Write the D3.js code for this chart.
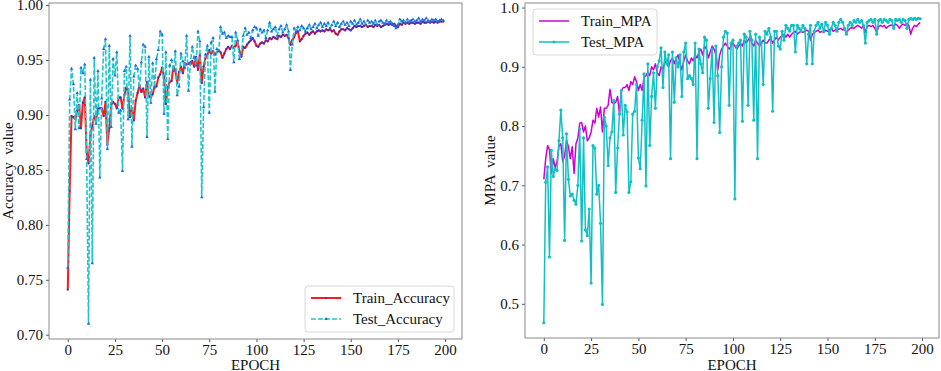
<!DOCTYPE html>
<html>
<head>
<meta charset="utf-8">
<script src="https://cdn.jsdelivr.net/npm/d3@7"></script>
<style>
  body { margin: 0; background: #fff; }
  svg { display: block; font-family: "Liberation Serif", "Times New Roman", serif; }
</style>
</head>
<body>
<div id="chart"></div>
<script>
// Values, one per epoch (0..199)
const trainAccuracy = [
  0.741,0.831,0.899,0.898,0.896,0.904,0.909,0.888,0.911,0.916,
  0.866,0.856,0.881,0.890,0.899,0.895,0.906,0.906,0.906,0.899,
  0.912,0.873,0.888,0.909,0.912,0.910,0.906,0.916,0.916,0.906,
  0.918,0.925,0.921,0.898,0.906,0.895,0.913,0.920,0.927,0.921,
  0.924,0.916,0.930,0.917,0.916,0.919,0.926,0.926,0.934,0.937,
  0.943,0.935,0.910,0.925,0.930,0.931,0.944,0.941,0.929,0.939,
  0.944,0.938,0.947,0.946,0.947,0.946,0.949,0.944,0.953,0.941,
  0.955,0.929,0.944,0.952,0.955,0.959,0.956,0.958,0.955,0.957,
  0.959,0.957,0.952,0.956,0.960,0.962,0.960,0.963,0.961,0.963,
  0.967,0.958,0.953,0.962,0.961,0.964,0.966,0.968,0.970,0.967,
  0.963,0.962,0.965,0.966,0.965,0.968,0.967,0.970,0.969,0.971,
  0.970,0.969,0.972,0.971,0.973,0.972,0.973,0.970,0.964,0.968,
  0.971,0.975,0.976,0.967,0.969,0.972,0.974,0.975,0.973,0.975,
  0.976,0.974,0.976,0.977,0.976,0.977,0.976,0.978,0.977,0.978,
  0.976,0.977,0.974,0.973,0.976,0.978,0.978,0.977,0.979,0.978,
  0.977,0.979,0.981,0.980,0.981,0.981,0.980,0.981,0.982,0.980,
  0.981,0.981,0.980,0.982,0.981,0.982,0.980,0.981,0.982,0.983,
  0.982,0.983,0.982,0.983,0.981,0.980,0.983,0.982,0.984,0.983,
  0.984,0.983,0.984,0.984,0.983,0.984,0.984,0.983,0.985,0.984,
  0.984,0.985,0.984,0.985,0.984,0.985,0.984,0.985,0.985,0.985
];
const testAccuracy = [
  0.761,0.914,0.942,0.928,0.887,0.920,0.888,0.943,0.938,0.946,
  0.860,0.710,0.932,0.765,0.952,0.892,0.940,0.843,0.915,0.960,
  0.969,0.869,0.963,0.889,0.951,0.936,0.957,0.902,0.904,0.849,
  0.940,0.944,0.896,0.972,0.871,0.935,0.945,0.942,0.924,0.948,
  0.964,0.962,0.880,0.953,0.911,0.947,0.925,0.951,0.959,0.976,
  0.973,0.901,0.957,0.878,0.945,0.950,0.940,0.958,0.918,0.926,
  0.956,0.949,0.943,0.972,0.922,0.948,0.962,0.952,0.945,0.976,
  0.967,0.825,0.907,0.955,0.963,0.902,0.966,0.970,0.921,0.960,
  0.958,0.980,0.974,0.975,0.970,0.972,0.971,0.971,0.948,0.975,
  0.968,0.951,0.955,0.972,0.979,0.973,0.975,0.970,0.977,0.980,
  0.979,0.972,0.978,0.975,0.977,0.970,0.977,0.984,0.976,0.978,
  0.980,0.972,0.978,0.981,0.975,0.978,0.982,0.976,0.941,0.964,
  0.979,0.976,0.980,0.977,0.981,0.979,0.976,0.979,0.982,0.978,
  0.980,0.983,0.979,0.982,0.984,0.980,0.983,0.981,0.984,0.979,
  0.982,0.985,0.981,0.984,0.980,0.983,0.985,0.982,0.984,0.981,
  0.985,0.983,0.986,0.982,0.984,0.987,0.983,0.985,0.982,0.986,
  0.984,0.985,0.983,0.986,0.982,0.985,0.986,0.984,0.983,0.986,
  0.984,0.985,0.983,0.981,0.979,0.982,0.987,0.985,0.986,0.984,
  0.987,0.985,0.986,0.987,0.985,0.986,0.988,0.985,0.987,0.986,
  0.988,0.986,0.985,0.987,0.986,0.987,0.985,0.986,0.987,0.986
];
const trainMPA = [
  0.710,0.745,0.767,0.760,0.720,0.745,0.730,0.740,0.766,0.770,
  0.740,0.750,0.776,0.765,0.745,0.765,0.720,0.770,0.780,0.805,
  0.806,0.790,0.800,0.775,0.780,0.790,0.810,0.805,0.830,0.815,
  0.832,0.790,0.830,0.830,0.835,0.862,0.840,0.838,0.840,0.850,
  0.820,0.860,0.865,0.865,0.870,0.860,0.875,0.870,0.883,0.875,
  0.860,0.870,0.860,0.882,0.885,0.890,0.885,0.900,0.895,0.905,
  0.890,0.885,0.900,0.895,0.910,0.905,0.900,0.910,0.915,0.905,
  0.915,0.920,0.905,0.895,0.910,0.920,0.910,0.905,0.915,0.910,
  0.920,0.915,0.925,0.930,0.920,0.935,0.930,0.915,0.925,0.935,
  0.930,0.920,0.895,0.920,0.930,0.935,0.940,0.935,0.930,0.935,
  0.940,0.935,0.930,0.935,0.940,0.935,0.945,0.940,0.945,0.950,
  0.940,0.935,0.945,0.940,0.935,0.940,0.945,0.940,0.940,0.945,
  0.948,0.940,0.945,0.950,0.945,0.950,0.952,0.955,0.950,0.955,
  0.950,0.955,0.958,0.960,0.955,0.958,0.960,0.958,0.960,0.962,
  0.960,0.945,0.955,0.958,0.960,0.962,0.958,0.960,0.958,0.962,
  0.960,0.962,0.965,0.960,0.962,0.965,0.963,0.965,0.962,0.963,
  0.958,0.962,0.965,0.966,0.965,0.968,0.970,0.968,0.965,0.970,
  0.958,0.968,0.970,0.968,0.970,0.965,0.958,0.968,0.970,0.968,
  0.970,0.965,0.968,0.970,0.970,0.968,0.972,0.970,0.965,0.970,
  0.972,0.970,0.973,0.970,0.955,0.965,0.970,0.968,0.972,0.975
];
const testMPA = [
  0.468,0.705,0.731,0.579,0.759,0.715,0.727,0.725,0.775,0.827,
  0.780,0.607,0.787,0.710,0.682,0.685,0.675,0.668,0.700,0.795,
  0.606,0.780,0.625,0.615,0.660,0.535,0.767,0.763,0.685,0.700,
  0.636,0.499,0.815,0.800,0.733,0.780,0.790,0.843,0.688,0.763,
  0.820,0.860,0.785,0.835,0.824,0.688,0.706,0.820,0.825,0.870,
  0.746,0.728,0.810,0.888,0.699,0.905,0.767,0.850,0.890,0.830,
  0.900,0.910,0.932,0.865,0.925,0.905,0.920,0.745,0.925,0.840,
  0.915,0.900,0.920,0.850,0.925,0.940,0.880,0.885,0.880,0.870,
  0.940,0.745,0.930,0.905,0.890,0.950,0.945,0.830,0.880,0.930,
  0.806,0.935,0.885,0.789,0.900,0.950,0.960,0.957,0.835,0.940,
  0.945,0.677,0.935,0.940,0.945,0.808,0.955,0.950,0.835,0.960,
  0.945,0.810,0.955,0.745,0.950,0.940,0.870,0.960,0.955,0.965,
  0.950,0.825,0.960,0.960,0.935,0.930,0.960,0.945,0.970,0.965,
  0.960,0.970,0.970,0.925,0.970,0.965,0.960,0.970,0.965,0.905,
  0.955,0.970,0.905,0.960,0.970,0.975,0.965,0.972,0.960,0.975,
  0.970,0.955,0.965,0.975,0.970,0.960,0.975,0.980,0.975,0.965,
  0.955,0.970,0.975,0.970,0.978,0.975,0.980,0.975,0.978,0.970,
  0.940,0.975,0.978,0.980,0.975,0.980,0.955,0.978,0.980,0.975,
  0.980,0.978,0.975,0.980,0.978,0.965,0.980,0.978,0.980,0.975,
  0.980,0.978,0.965,0.980,0.982,0.980,0.982,0.980,0.982,0.981
];
const epochs = d3.range(trainAccuracy.length);
const xTicks = [0, 25, 50, 75, 100, 125, 150, 175, 200];
const accTicks = [0.70, 0.75, 0.80, 0.85, 0.90, 0.95, 1.00];
const mpaTicks = [0.5, 0.6, 0.7, 0.8, 0.9, 1.0];

const W = 941, H = 371;
const svg = d3.select("#chart").append("svg")
    .attr("width", W)
    .attr("height", H);

// matplotlib-like 5% padding on the data range
function padded(extent) {
    const span = extent[1] - extent[0];
    return [extent[0] - span * 0.05, extent[1] + span * 0.05];
}

function styleAxis(ax) {
    ax.select(".domain").remove();
    ax.selectAll("line").attr("stroke", "#555");
    ax.selectAll("text").attr("fill", "#111")
        .style("font-size", "15px")
        .style("font-family", "'Liberation Serif', serif");
}

function drawPanel(opts) {
    const { left, right, top, bottom } = opts.box;
    const x = d3.scaleLinear().domain(padded([0, epochs.length - 1])).range([left, right]);
    const allVals = opts.series.flatMap(s => s.values);
    const y = d3.scaleLinear().domain(padded(d3.extent(allVals))).range([bottom, top]);

    const g = svg.append("g");

    const clipId = "clip-" + opts.id;
    g.append("clipPath").attr("id", clipId)
        .append("rect")
        .attr("x", left).attr("y", top)
        .attr("width", right - left).attr("height", bottom - top);

    // X axis
    const xAxis = g.append("g")
        .attr("transform", `translate(0,${bottom})`)
        .call(d3.axisBottom(x).tickValues(xTicks).tickSize(3).tickPadding(2).tickFormat(d3.format("d")));
    styleAxis(xAxis);

    // Y axis
    const yAxis = g.append("g")
        .attr("transform", `translate(${left},0)`)
        .call(d3.axisLeft(y).tickValues(opts.yTicks).tickSize(3).tickPadding(3).tickFormat(d3.format(opts.yFormat)));
    styleAxis(yAxis);

    // Lines and markers
    const plot = g.append("g").attr("clip-path", `url(#${clipId})`);
    opts.series.forEach(s => {
        const line = d3.line()
            .x((d, i) => x(epochs[i]))
            .y(d => y(d));
        plot.append("path")
            .datum(s.values)
            .attr("fill", "none")
            .attr("stroke", s.color)
            .attr("stroke-width", s.width)
            .attr("stroke-dasharray", s.dash || null)
            .attr("stroke-linejoin", "round")
            .attr("d", line);
        if (s.marker === "triangle") {
            plot.append("g").selectAll("path")
                .data(s.values)
                .join("path")
                .attr("d", d3.symbol(d3.symbolTriangle, s.markerSize)())
                .attr("transform", (d, i) => `translate(${x(epochs[i])},${y(d)})`)
                .attr("fill", s.markerColor);
        } else if (s.marker) {
            plot.append("g").selectAll("circle")
                .data(s.values)
                .join("circle")
                .attr("cx", (d, i) => x(epochs[i]))
                .attr("cy", d => y(d))
                .attr("r", s.markerR)
                .attr("fill", s.markerColor);
        }
    });

    // Frame
    g.append("rect")
        .attr("x", left).attr("y", top)
        .attr("width", right - left).attr("height", bottom - top)
        .attr("fill", "none")
        .attr("stroke", "#8a8a8a")
        .attr("stroke-width", 1);

    // Axis labels
    g.append("text")
        .attr("x", (left + right) / 2)
        .attr("y", 370)
        .attr("text-anchor", "middle")
        .style("font-size", "15px")
        .attr("fill", "#111")
        .text("EPOCH");

    g.append("text")
        .attr("transform", `translate(${opts.yLabelX},${(top + bottom) / 2}) rotate(-90)`)
        .attr("text-anchor", "middle")
        .style("font-size", "15px")
        .style("white-space", "pre")
        .attr("fill", "#111")
        .text(opts.yLabel);

    // Legend
    const lg = opts.legend;
    const leg = g.append("g").attr("transform", `translate(${lg.x},${lg.y})`);
    leg.append("rect")
        .attr("width", lg.w).attr("height", lg.h)
        .attr("rx", 3)
        .attr("fill", "#fff").attr("fill-opacity", 0.8)
        .attr("stroke", "#d8d8d8");
    opts.series.forEach((s, i) => {
        const ry = 12 + i * 21;
        leg.append("line")
            .attr("x1", 6).attr("x2", 36)
            .attr("y1", ry).attr("y2", ry)
            .attr("stroke", s.color)
            .attr("stroke-width", s.width)
            .attr("stroke-dasharray", s.dash || null);
        if (s.marker === "triangle") {
            leg.append("path")
                .attr("d", d3.symbol(d3.symbolTriangle, s.markerSize)())
                .attr("transform", `translate(21,${ry})`)
                .attr("fill", s.markerColor);
        } else if (s.marker) {
            leg.append("circle").attr("cx", 21).attr("cy", ry).attr("r", s.markerR).attr("fill", s.markerColor);
        }
        leg.append("text")
            .attr("x", 48).attr("y", ry + 5)
            .style("font-size", "15px")
            .attr("fill", "#111")
            .text(s.name);
    });
}

drawPanel({
    id: "acc",
    box: { left: 49, right: 462, top: 3, bottom: 339 },
    yTicks: accTicks,
    yFormat: ".2f",
    yLabel: "Accuracy  value",
    yLabelX: 13,
    legend: { x: 305, y: 286, w: 149, h: 46 },
    series: [
        { name: "Train_Accuracy", values: trainAccuracy, color: "#ff1a1a", width: 2,
          marker: "circle", markerR: 1.1, markerColor: "#3b2fc8" },
        { name: "Test_Accuracy", values: testAccuracy, color: "#22c4cc", width: 1.6, dash: "5,2",
          marker: "triangle", markerSize: 5, markerColor: "#1f6ae0" }
    ]
});

drawPanel({
    id: "mpa",
    box: { left: 525, right: 939, top: 3, bottom: 338 },
    yTicks: mpaTicks,
    yFormat: ".1f",
    yLabel: "MPA  value",
    yLabelX: 495,
    legend: { x: 533, y: 9, w: 124, h: 46 },
    series: [
        { name: "Train_MPA", values: trainMPA, color: "#d000d0", width: 1.5 },
        { name: "Test_MPA", values: testMPA, color: "#12bfc4", width: 1.5,
          marker: "circle", markerR: 1.6, markerColor: "#12bfc4" }
    ]
});
</script>
</body>
</html>
